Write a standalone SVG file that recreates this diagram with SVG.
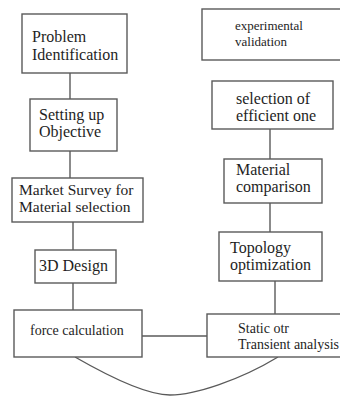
<svg xmlns="http://www.w3.org/2000/svg" width="340" height="396" viewBox="0 0 340 396">
<style>
.box{fill:#fff;stroke:#5a5a5a;stroke-width:1.4}
.ln{fill:none;stroke:#5a5a5a;stroke-width:1.4}
text{font-family:"Liberation Serif","Times New Roman",serif;font-size:16px;fill:#1e1e1e}
</style>
<rect width="340" height="396" fill="#fff"/>
<g id="connectors">
<line class="ln" x1="70" y1="73" x2="70" y2="99"/>
<line class="ln" x1="70" y1="151" x2="70" y2="178"/>
<line class="ln" x1="73" y1="222" x2="73" y2="250"/>
<line class="ln" x1="73" y1="283" x2="73" y2="310"/>
<line class="ln" x1="142" y1="336" x2="207" y2="336"/>
<line class="ln" x1="270" y1="129" x2="270" y2="159"/>
<line class="ln" x1="270" y1="203" x2="270" y2="232"/>
<line class="ln" x1="275" y1="281" x2="275" y2="314"/>
<path class="ln" d="M75,357 C115,380 148,395 170,395 C195,395 240,380 278,357"/>
</g>
<g id="problem">
<rect class="box" x="22" y="14" width="105" height="59"/>
<text x="32" y="42">Problem</text>
<text x="32" y="60">Identification</text>
</g>
<g id="objective">
<rect class="box" x="30" y="99" width="87" height="52"/>
<text x="39" y="120">Setting up</text>
<text x="39" y="137">Objective</text>
</g>
<g id="market">
<rect class="box" x="12" y="178" width="131" height="44"/>
<text x="19" y="195" style="font-size:15.5px">Market Survey for</text>
<text x="19" y="212" style="font-size:15.5px">Material selection</text>
</g>
<g id="design">
<rect class="box" x="35" y="250" width="81" height="33"/>
<text x="39" y="271">3D Design</text>
</g>
<g id="force">
<rect class="box" x="14" y="310" width="128" height="47"/>
<text x="30" y="335" style="font-size:14px">force calculation</text>
</g>
<g id="analysis">
<rect class="box" x="207" y="314" width="140" height="43"/>
<text x="238" y="333" style="font-size:14px">Static otr</text>
<text x="238" y="349" style="font-size:14px">Transient analysis</text>
</g>
<g id="topology">
<rect class="box" x="219" y="232" width="103" height="49"/>
<text x="230" y="253">Topology</text>
<text x="230" y="270">optimization</text>
</g>
<g id="material">
<rect class="box" x="224" y="159" width="98" height="44"/>
<text x="236" y="175">Material</text>
<text x="236" y="192">comparison</text>
</g>
<g id="selection">
<rect class="box" x="212" y="81" width="121" height="48"/>
<text x="236" y="104">selection of</text>
<text x="236" y="121">efficient one</text>
</g>
<g id="validation">
<rect class="box" x="202" y="9" width="145" height="51"/>
<text x="235" y="30" style="font-size:13px">experimental</text>
<text x="235" y="46" style="font-size:13px">validation</text>
</g>
</svg>
